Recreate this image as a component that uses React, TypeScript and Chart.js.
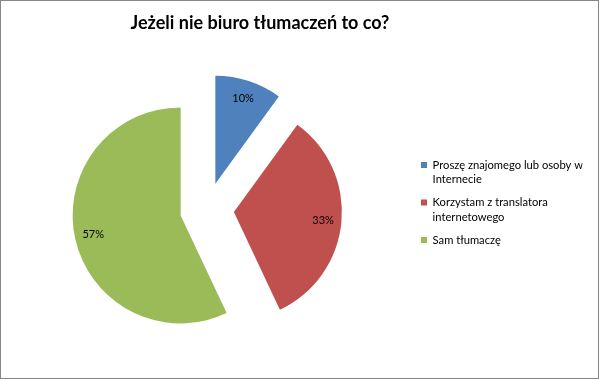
import React, { useEffect, useRef } from "react";
import { Chart, registerables } from "chart.js";

Chart.register(...registerables);

// ---- data ----
const chartTitle = "Jeżeli nie biuro tłumaczeń to co?";
const categories: string[][] = [
  ["Proszę znajomego lub osoby w", "Internecie"],
  ["Korzystam z translatora", "internetowego"],
  ["Sam tłumaczę"],
];
const values: number[] = [10, 33, 57];
const colors: string[] = ["#4F81BD", "#C0504D", "#9BBB59"];

// ---- style ----
const FONT = "Lato, 'Noto Sans', sans-serif";
const EXPLODE = 27;

const explodePlugin = {
  id: "explodeSlices",
  afterDatasetUpdate(chart: any, args: any) {
    args.meta.data.forEach((arc: any) => {
      const mid = (arc.startAngle + arc.endAngle) / 2;
      arc.x += Math.cos(mid) * EXPLODE;
      arc.y += Math.sin(mid) * EXPLODE;
    });
  },
};

const labelPlugin = {
  id: "pctLabels",
  afterDatasetsDraw(chart: any) {
    const meta = chart.getDatasetMeta(0);
    const data: number[] = chart.data.datasets[0].data;
    const total = data.reduce((a, b) => a + b, 0);
    const ctx = chart.ctx;
    ctx.save();
    ctx.font = `11px ${FONT}`;
    ctx.fillStyle = "#000";
    ctx.textAlign = "center";
    ctx.textBaseline = "middle";
    meta.data.forEach((arc: any, i: number) => {
      const mid = (arc.startAngle + arc.endAngle) / 2;
      const r = arc.outerRadius * 0.83;
      ctx.fillText(
        Math.round((data[i] / total) * 100) + "%",
        arc.x + Math.cos(mid) * r,
        arc.y + Math.sin(mid) * r
      );
    });
    ctx.restore();
  },
};

const framePlugin = {
  id: "frameAndTitle",
  beforeDraw(chart: any) {
    const ctx = chart.ctx;
    ctx.save();
    ctx.fillStyle = "#ffffff";
    ctx.fillRect(0, 0, chart.width, chart.height);
    ctx.strokeStyle = "#868686";
    ctx.lineWidth = 1;
    ctx.strokeRect(0.5, 0.5, chart.width - 2, chart.height - 1);
    ctx.font = `bold 18px ${FONT}`;
    ctx.fillStyle = "#000";
    ctx.textAlign = "center";
    ctx.textBaseline = "alphabetic";
    ctx.fillText(chartTitle, chart.width * 0.4333, 29);
    ctx.restore();
  },
};

export default function App() {
  const ref = useRef<HTMLCanvasElement | null>(null);
  useEffect(() => {
    if (!ref.current) return;
    const chart = new Chart(ref.current, {
      type: "pie",
      data: {
        labels: categories as any,
        datasets: [
          {
            data: values,
            backgroundColor: colors,
            borderWidth: 0,
          },
        ],
      },
      options: {
        responsive: false,
        animation: false,
        devicePixelRatio: 1,
        radius: 108,
        layout: { padding: { left: 1.5, right: 17.5, top: 151, bottom: 111 } },
        plugins: {
          title: { display: false },
          tooltip: { enabled: false },
          legend: {
            display: true,
            position: "right",
            align: "start",
            maxWidth: 170,
            labels: {
              boxWidth: 6,
              boxHeight: 6,
              padding: 8.5,
              color: "#000",
              font: { family: FONT, size: 11.2, lineHeight: 1.295 },
            },
          },
        },
      } as any,
      plugins: [framePlugin, explodePlugin, labelPlugin],
    });
    return () => chart.destroy();
  }, []);
  return (
    <div style={{ position: "fixed", left: 0, top: 0, width: 600, height: 379, background: "#fff" }}>
      <canvas ref={ref} width={600} height={379} style={{ display: "block", width: 600, height: 379 }} />
    </div>
  );
}
